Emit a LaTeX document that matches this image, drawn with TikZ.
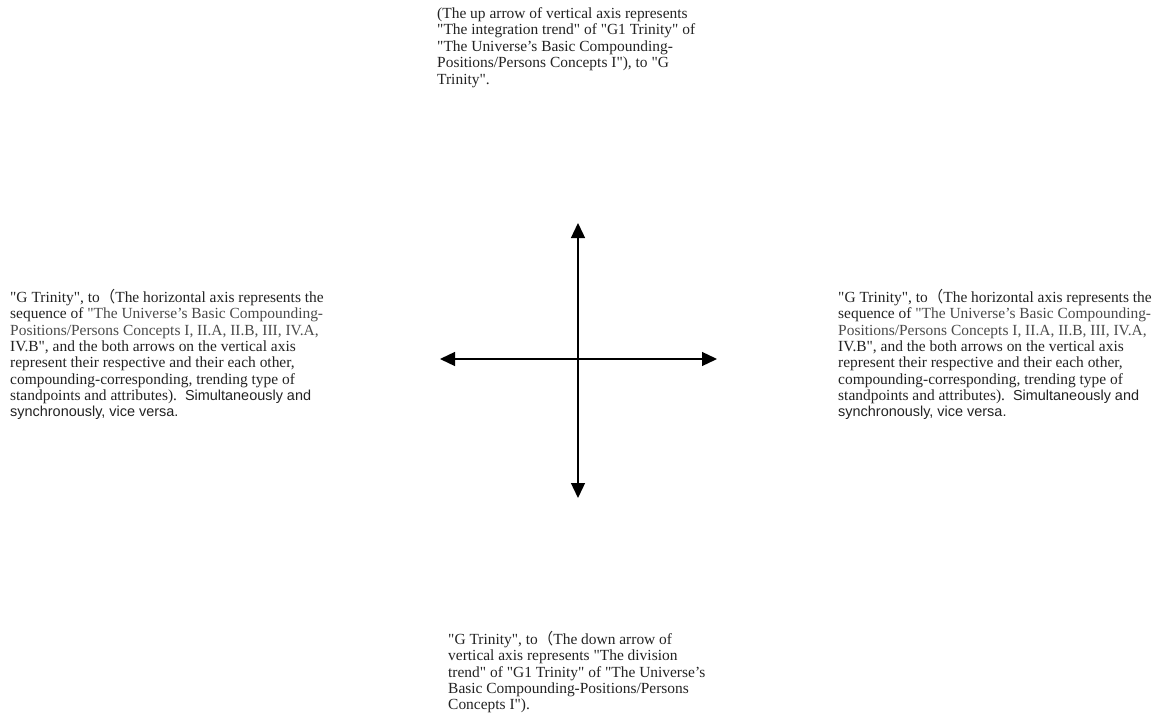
\documentclass[tikz,border=0pt]{standalone}
\usepackage{fontspec}
\setmainfont{Liberation Serif}[Ligatures=TeXOff]
\newfontfamily\sansf{Liberation Sans}[Ligatures=TeXOff]
\newfontfamily\cjk{Noto Sans CJK SC}
\usetikzlibrary{arrows.meta}
\definecolor{txt}{HTML}{222222}
\definecolor{txtgray}{HTML}{4A4A4A}
\newcommand\fwparen{{\cjk （}}
\newcommand\sidetextbody{%
"G Trinity", to\fwparen The horizontal axis represents the\\
sequence of \textcolor{txtgray}{"The Universe’s Basic Compounding-}\\
\textcolor{txtgray}{Positions/Persons Concepts I, II.A, II.B, III, IV.A,}\\
IV.B", and the both arrows on the vertical axis\\
represent their respective and their each other,\\
compounding-corresponding, trending type of\\
standpoints and attributes).\hspace{8bp}{\sansf\fontsize{14.5}{16.4}\selectfont Simultaneously and}\\
{\sansf\fontsize{14.5}{16.4}\selectfont synchronously, vice versa.}}
\begin{document}
\begin{tikzpicture}[x=1bp,y=-1bp,
  blocktext/.style={anchor=north west,inner sep=0pt,align=left,text=txt,
    font=\fontsize{15.5}{16.4}\selectfont},
  axis/.style={line width=1.3bp,{Triangle[length=15bp,width=14bp]}-{Triangle[length=15bp,width=14bp]}}]
\useasboundingbox (0,0) rectangle (1156,728);
\coordinate (up) at (578,223);
\coordinate (down) at (578,498);
\coordinate (lft) at (440,359);
\coordinate (rgt) at (717,359);
\draw[axis] (down) -- (up);
\draw[axis] (lft) -- (rgt);
\node[blocktext,font=\fontsize{15.5}{16.6}\selectfont] (toptext) at (437,7) {(The up arrow of vertical axis represents\\
"The integration trend" of "G1 Trinity" of\\
"The Universe’s Basic Compounding-\\
Positions/Persons Concepts I"), to "G\\
Trinity".};
\node[blocktext] (lefttext) at (10,289) {\sidetextbody};
\node[blocktext] (righttext) at (838,289) {\sidetextbody};
\node[blocktext] (bottomtext) at (448,631) {"G Trinity", to\fwparen The down arrow of\\
vertical axis represents "The division\\
trend" of "G1 Trinity" of "The Universe’s\\
Basic Compounding-Positions/Persons\\
Concepts I").};
\end{tikzpicture}
\end{document}
